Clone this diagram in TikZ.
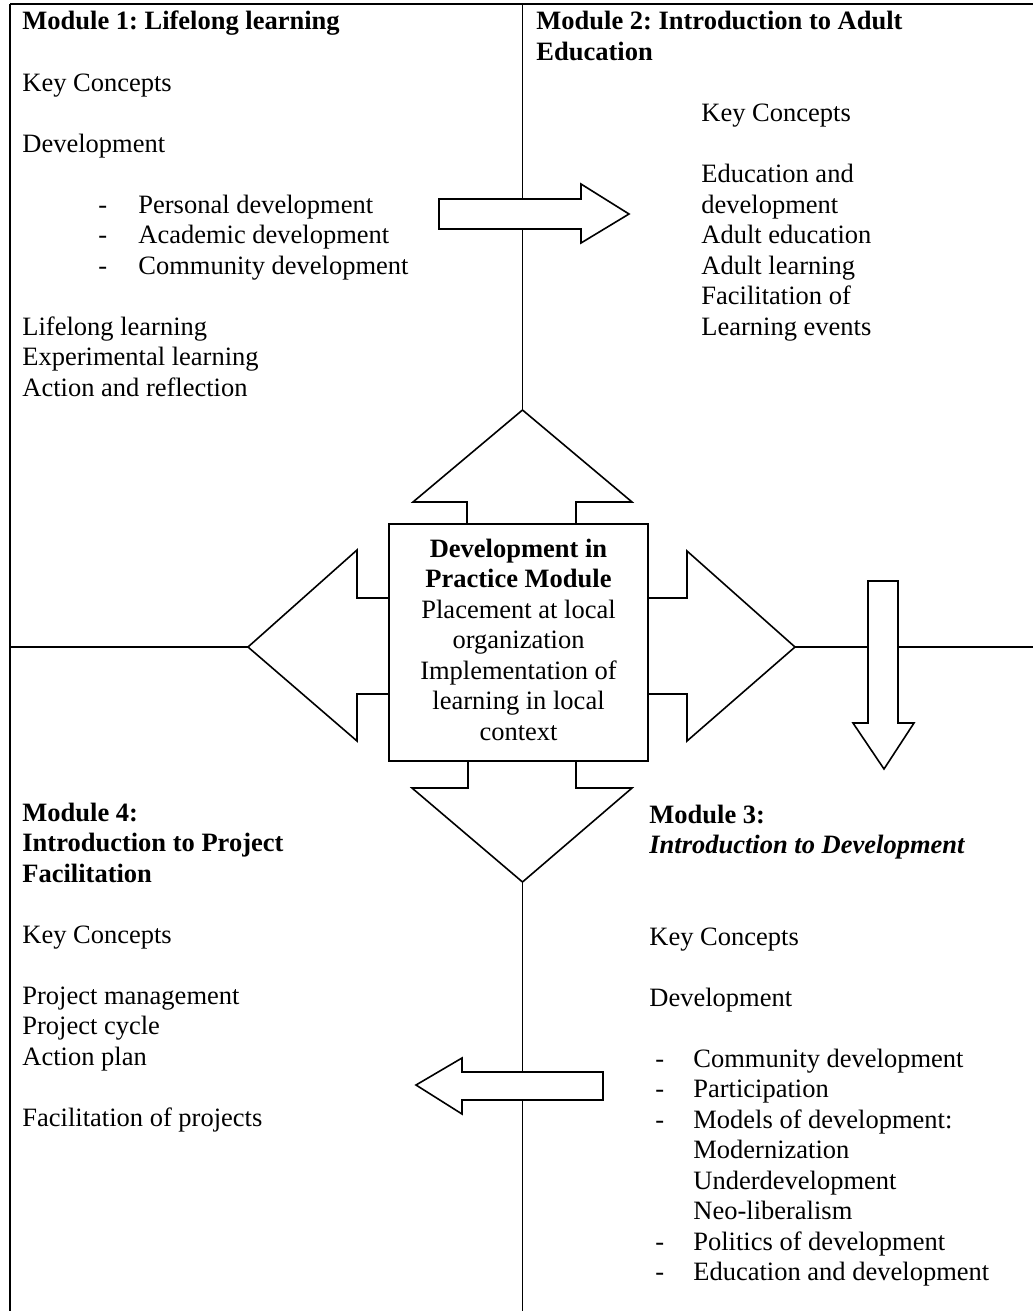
\documentclass[tikz,border=0pt]{standalone}
\usepackage{fontspec}
\setmainfont{Liberation Serif}
\frenchspacing
\newcommand\dashitem[1]{\makebox[20pt][l]{-}#1}
\newcommand\dashitemb[1]{\makebox[19pt][l]{-}#1}
\tikzset{
  txt/.style={font=\fontsize{13.25}{15.25}\selectfont, inner sep=0pt, anchor=base west, align=left},
  hd/.style={txt, font=\fontsize{13.25}{15.25}\selectfont\bfseries},
  ln/.style={line width=0.7pt},
  arr/.style={draw, line width=0.8pt, fill=white, line join=miter},
}
\begin{document}
\begin{tikzpicture}[x=0.5pt,y=-0.5pt]
\useasboundingbox (0,0) rectangle (1033,1311);
\fill[white] (0,0) rectangle (1033,1311);

% frame and axis coordinates
\coordinate (tl) at (10,4);
\coordinate (tr) at (1033,4);
\coordinate (bl) at (10,1311);
\coordinate (ctop) at (522.5,4);
\coordinate (cbot) at (522.5,1311);
\coordinate (lft) at (10,647);
\coordinate (rgt) at (1033,647);
\coordinate (upTip) at (522.5,410);
\coordinate (downTip) at (522.5,882);
\coordinate (leftTip) at (248,647);
\coordinate (rightTip) at (795,647);

% lines
\draw[ln] (tl) -- (tr);
\draw[ln] (tl) -- (bl);
\draw[ln] (ctop) -- (upTip);
\draw[ln] (downTip) -- (cbot);
\draw[ln] (lft) -- (leftTip);
\draw[ln] (rightTip) -- (rgt);

% arrows around the central box
\path[arr] (467,526) -- (467,502) -- (413,502) -- (upTip) -- (632,502) -- (576,502) -- (576,526) -- cycle;
\path[arr] (468,759) -- (468,788) -- (412,788) -- (downTip) -- (632,788) -- (576,788) -- (576,759) -- cycle;
\path[arr] (391,598) -- (357,598) -- (357,550) -- (leftTip) -- (357,741) -- (357,694) -- (391,694) -- cycle;
\path[arr] (646,598) -- (687,598) -- (687,551) -- (rightTip) -- (687,741) -- (687,694) -- (646,694) -- cycle;

% arrows between modules
\path[arr] (439,199) -- (581,199) -- (581,184) -- (629,214) -- (581,243) -- (581,229) -- (439,229) -- cycle;
\path[arr] (868,581) -- (898,581) -- (898,723) -- (914,723) -- (884,769) -- (853,723) -- (868,723) -- cycle;
\path[arr] (603,1072) -- (462,1072) -- (462,1058) -- (416,1085) -- (462,1114) -- (462,1100) -- (603,1100) -- cycle;

% central box
\node[draw, line width=0.9pt, fill=white, minimum width=129.5pt, minimum height=118.5pt,
      inner sep=0pt] (dip) at (518.5,642.5) {};
\node[font=\fontsize{13.25}{15.25}\selectfont, inner sep=0pt, align=center, anchor=base] (diptext) at (518.5,740)
  {\textbf{Development in}\\\textbf{Practice Module}\\Placement at local\\organization\\Implementation of\\learning in local\\context};

% Module 1 (nodes placed at the baseline of their last line)
\node[hd]  (m1h) at (22,30) {Module 1: Lifelong learning};
\node[txt] (m1k) at (22,91) {Key Concepts};
\node[txt] (m1d) at (22,152) {Development};
\node[txt] (m1l) at (98,274) {\dashitem{Personal development}\\\dashitem{Academic development}\\\dashitem{Community development}};
\node[txt] (m1m) at (22,396) {Lifelong learning\\Experimental learning\\Action and reflection};

% Module 2
\node[hd]  (m2h) at (536,60.5) {Module 2: Introduction to Adult\\Education};
\node[txt] (m2k) at (701,121.5) {Key Concepts};
\node[txt] (m2l) at (701,335) {Education and\\development\\Adult education\\Adult learning\\Facilitation of\\Learning events};

% Module 4
\node[hd]  (m4h) at (22,882) {Module 4:\\Introduction to Project\\Facilitation};
\node[txt] (m4k) at (22,943) {Key Concepts};
\node[txt] (m4l) at (22,1065) {Project management\\Project cycle\\Action plan};
\node[txt] (m4f) at (22,1126) {Facilitation of projects};

% Module 3
\node[hd]  (m3h) at (649,853.5) {Module 3:\\\textit{Introduction to Development}};
\node[txt] (m3k) at (649,945) {Key Concepts};
\node[txt] (m3d) at (649,1006) {Development};
\node[txt] (m3l) at (655,1280.5) {\dashitemb{Community development}\\\dashitemb{Participation}\\\dashitemb{Models of development:}\\\hspace*{19pt}Modernization\\\hspace*{19pt}Underdevelopment\\\hspace*{19pt}Neo-liberalism\\\dashitemb{Politics of development}\\\dashitemb{Education and development}};
\end{tikzpicture}
\end{document}
